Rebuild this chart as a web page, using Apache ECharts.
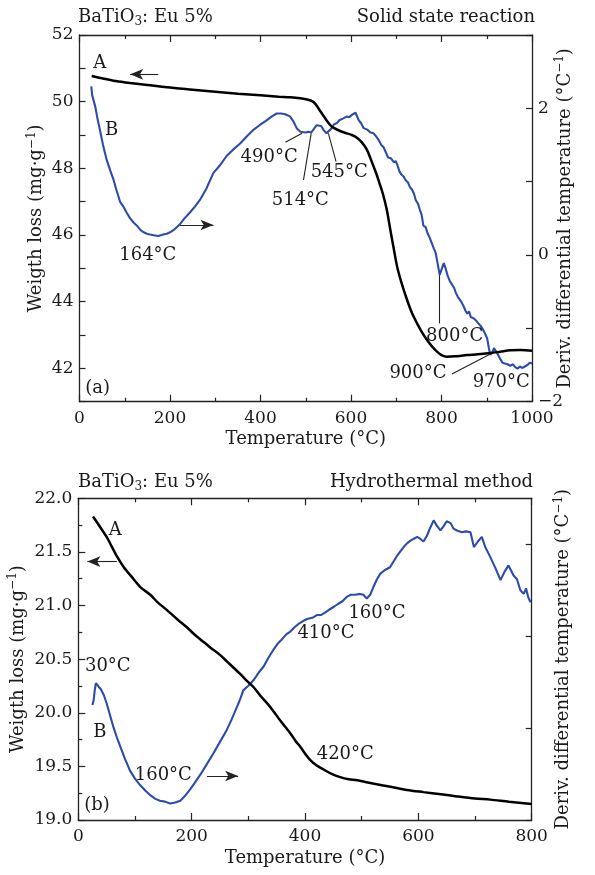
<!DOCTYPE html>
<html><head><meta charset="utf-8">
<script src="https://cdn.jsdelivr.net/npm/echarts@6/dist/echarts.min.js"></script>
<style>html,body{margin:0;padding:0;background:#fff}#c{width:595px;height:875px}</style>
</head><body><div id="c"></div>
<script>
// ---------- data ----------
const topWeight = [[27,50.77],[50,50.70],[80,50.62],[112,50.56],[150,50.50],[193,50.43],[250,50.36],[300,50.30],[350,50.24],[400,50.19],[440,50.15],[466,50.13],[488,50.10],[505,50.06],[515,50.01],[522,49.92],[530,49.76],[540,49.56],[547,49.42],[554,49.30],[561,49.22],[576,49.12],[591,49.05],[602,49.00],[613,48.92],[624,48.78],[635,48.56],[643,48.30],[650,48.05],[657,47.80],[663,47.55],[669,47.30],[675,47.00],[680,46.70],[687,46.15],[695,45.55],[702,45.05],[712,44.55],[724,44.05],[735,43.65],[746,43.35],[757,43.08],[768,42.85],[779,42.66],[790,42.50],[800,42.40],[812,42.35],[830,42.36],[857,42.40],[880,42.42],[908,42.46],[930,42.50],[952,42.54],[975,42.55],[1000,42.53]];
const topDeriv = [[26,2.30],[28,2.18],[30,2.20],[35,2.02],[40,1.85],[45,1.71],[52,1.50],[60,1.30],[68,1.15],[75,1.03],[82,0.88],[90,0.72],[97,0.66],[104,0.58],[112,0.50],[120,0.44],[127,0.40],[135,0.34],[142,0.31],[149,0.29],[156,0.28],[164,0.27],[174,0.26],[185,0.28],[193,0.29],[200,0.31],[210,0.35],[222,0.42],[232,0.50],[244,0.58],[255,0.66],[267,0.76],[280,0.90],[296,1.12],[310,1.22],[325,1.35],[340,1.44],[355,1.52],[370,1.62],[385,1.71],[400,1.78],[412,1.83],[425,1.89],[436,1.93],[445,1.93],[455,1.92],[465,1.89],[472,1.83],[480,1.73],[488,1.68],[492,1.66],[500,1.67],[506,1.68],[512,1.67],[518,1.72],[524,1.77],[528,1.79],[534,1.76],[540,1.70],[546,1.66],[550,1.67],[556,1.72],[562,1.78],[569,1.80],[575,1.84],[582,1.86],[591,1.89],[596,1.88],[602,1.91],[606,1.90],[610,1.94],[614,1.93],[617,1.84],[622,1.80],[628,1.73],[636,1.71],[643,1.67],[650,1.66],[655,1.62],[661,1.57],[667,1.50],[672,1.47],[677,1.40],[682,1.33],[688,1.32],[694,1.27],[699,1.28],[703,1.22],[707,1.14],[711,1.10],[716,1.07],[721,1.02],[726,0.99],[730,0.93],[735,0.89],[739,0.84],[743,0.75],[748,0.70],[752,0.62],[756,0.55],[760,0.40],[765,0.38],[769,0.30],[773,0.25],[778,0.17],[783,0.09],[787,0.03],[791,-0.10],[796,-0.27],[800,-0.20],[805,-0.11],[809,-0.18],[813,-0.27],[818,-0.35],[823,-0.40],[828,-0.45],[832,-0.52],[836,-0.57],[840,-0.55],[844,-0.64],[849,-0.70],[853,-0.76],[857,-0.80],[861,-0.77],[865,-0.85],[870,-0.86],[876,-0.89],[881,-0.93],[887,-0.97],[892,-1.02],[897,-1.08],[901,-1.14],[905,-1.28],[908,-1.36],[912,-1.33],[916,-1.27],[920,-1.28],[925,-1.36],[930,-1.42],[935,-1.47],[940,-1.48],[946,-1.49],[952,-1.51],[958,-1.49],[963,-1.53],[968,-1.55],[973,-1.52],[978,-1.54],[984,-1.52],[990,-1.50],[995,-1.47],[1000,-1.48]];
const botWeight = [[26,21.83],[35,21.76],[50,21.64],[60,21.54],[68,21.46],[80,21.36],[97,21.25],[110,21.17],[127,21.10],[140,21.03],[156,20.96],[175,20.87],[191,20.80],[205,20.73],[221,20.66],[235,20.60],[250,20.54],[262,20.48],[274,20.42],[286,20.36],[297,20.30],[309,20.24],[321,20.16],[333,20.09],[345,20.01],[356,19.93],[365,19.87],[374,19.81],[383,19.74],[392,19.68],[400,19.62],[409,19.56],[420,19.51],[433,19.47],[447,19.43],[462,19.40],[477,19.38],[492,19.37],[520,19.34],[551,19.31],[580,19.28],[609,19.26],[640,19.24],[668,19.22],[700,19.20],[727,19.19],[760,19.17],[800,19.15]];
const botDeriv = [[25,1.25],[27,1.30],[29,1.41],[31,1.49],[32.5,1.51],[34,1.47],[36,1.45],[40,1.42],[45,1.36],[50,1.27],[56,1.14],[62,1.01],[68,0.90],[74,0.80],[82,0.67],[91,0.54],[100,0.45],[109,0.38],[118,0.32],[127,0.27],[136,0.23],[144,0.21],[153,0.20],[162,0.18],[171,0.19],[180,0.21],[188,0.26],[197,0.33],[206,0.41],[215,0.49],[226,0.60],[238,0.72],[250,0.85],[262,0.98],[271,1.10],[280,1.23],[286,1.32],[291,1.41],[300,1.46],[309,1.52],[318,1.60],[327,1.67],[335,1.76],[344,1.85],[352,1.92],[360,1.97],[367,2.02],[374,2.05],[382,2.10],[390,2.14],[398,2.17],[405,2.19],[413,2.20],[421,2.23],[428,2.23],[436,2.26],[443,2.29],[451,2.32],[458,2.35],[466,2.38],[474,2.43],[481,2.45],[489,2.45],[497,2.46],[503,2.45],[509,2.41],[515,2.45],[521,2.54],[527,2.62],[533,2.68],[541,2.72],[550,2.75],[556,2.81],[562,2.87],[568,2.92],[574,2.97],[580,3.01],[586,3.04],[592,3.06],[598,3.08],[603,3.06],[609,3.03],[615,3.09],[621,3.18],[627,3.26],[633,3.20],[639,3.15],[645,3.20],[650,3.25],[653,3.27],[657,3.23],[662,3.17],[668,3.15],[677,3.13],[684,3.14],[692,3.13],[698,2.97],[705,3.03],[712,3.08],[718,2.97],[727,2.86],[736,2.74],[745,2.61],[752,2.70],[759,2.77],[764,2.71],[768,2.66],[774,2.62],[780,2.50],[786,2.46],[790,2.52],[794,2.42],[798,2.37]];

const topLeftLabels = [42,44,46,48,50,52];
const topLeftTicks = [41,42,43,44,45,46,47,48,49,50,51,52];
const topRightLabels = [-2,0,2];
const topRightTicks = [-2,-1,0,1,2,3];
const botRightTicks = [0,1,2,3];

const topNotes = [[45,51.15,'A'],[71,49.15,'B'],[151,45.40,'164°C'],[419,48.34,'490°C'],[488,47.05,'514°C'],[574,47.89,'545°C'],[829,42.95,'800°C'],[748,41.85,'900°C'],[932,41.57,'970°C'],[40,41.41,'(a)']];
const topLeaders = [[[455,48.78],[492,49.05]],[[495,47.65],[512,49.05]],[[567,48.20],[550,49.05]],[[796,44.80],[796,43.35]],[[823,41.83],[908,42.43]]];
const topArrows = [[[174,50.82],[112,50.82]],[[222,46.30],[296,46.30]]];
const botNotes = [[65,21.70,'A'],[52,20.43,'30°C'],[38,19.82,'B'],[150,19.42,'160°C'],[437,20.74,'410°C'],[527,20.93,'160°C'],[471,19.61,'420°C'],[33,19.14,'(b)']];
const botLeaders = [];
const botArrows = [[[68,21.41],[16,21.41]],[[227,19.41],[282,19.41]]];

// ---------- styling ----------
const FONT = 'DejaVu Serif';
const TXT = '#1a1a1a';
const BLUE = '#2d4ca8';
const AX = '#222';
const TICK = 17, NAME = 18;

const nameRich = {
  a:{fontFamily:FONT,fontSize:NAME,color:TXT,lineHeight:22,fontWeight:'normal'},
  s:{fontFamily:FONT,fontSize:12,color:TXT,lineHeight:22,verticalAlign:'top',fontWeight:'normal'}
};
const titleRich = {
  a:{fontFamily:FONT,fontSize:NAME,color:TXT,lineHeight:22,fontWeight:'normal'},
  s:{fontFamily:FONT,fontSize:12,color:TXT,lineHeight:22,verticalAlign:'bottom',fontWeight:'normal'}
};
const axLine = {show:true,onZero:false,lineStyle:{color:AX,width:1.3}};
const lbl = (m)=>({fontFamily:FONT,fontSize:TICK,color:TXT,margin:m});

function xAx(grid,max,pos,name){
  const o = {type:'value',gridIndex:grid,min:0,max:max,interval:200,position:pos,
    axisLine:axLine,splitLine:{show:false},
    axisTick:{show:true,inside:true,length:7,lineStyle:{color:AX,width:1.2}},
    minorTick:{show:true,splitNumber:2,length:4,lineStyle:{color:AX,width:1.2}},
    axisLabel:pos==='bottom'?Object.assign(lbl(8),{formatter:v=>String(v)}):{show:false}};
  if(name){o.name=name;o.nameLocation='middle';o.nameGap=27;o.nameMoveOverlap=false;
    o.nameTextStyle={fontFamily:FONT,fontSize:NAME,color:TXT,lineHeight:22};}
  return o;
}
const mkNotes = (arr)=>arr.map(d=>({value:[d[0],d[1]],name:d[2]}));
const mkLines = (leaders,arrows)=>[
  ...leaders.map(l=>[{coord:l[0],symbol:'none'},{coord:l[1],symbol:'none'}]),
  ...arrows.map(l=>[{coord:l[0],symbol:'none'},{coord:l[1],symbol:'arrow',symbolSize:[8,13]}])
];
function notesSeries(xi,yi,notes,leaders,arrows){
  return {type:'scatter',xAxisIndex:xi,yAxisIndex:yi,data:mkNotes(notes),symbolSize:1,
    itemStyle:{color:'transparent',opacity:1},silent:true,z:5,
    label:{show:true,position:'inside',formatter:'{b}',fontFamily:FONT,fontSize:NAME,color:TXT,opacity:1,textBorderWidth:0},
    markLine:{silent:true,animation:false,symbol:['none','none'],label:{show:false},
      lineStyle:{color:'#222',width:1.1,type:'solid',opacity:1},emphasis:{disabled:true},
      data:mkLines(leaders,arrows)}};
}

const chart = echarts.init(document.getElementById('c'),null,{renderer:'canvas'});
chart.setOption({
  animation:false,
  backgroundColor:'#fff',
  title:[
    {text:'{a|BaTiO}{s|3}{a|: Eu 5%}',left:78,top:6,padding:0,textStyle:{fontWeight:'normal',rich:titleRich}},
    {text:'Solid state reaction',right:60,top:6,padding:0,textStyle:{fontFamily:FONT,fontSize:NAME,color:TXT,fontWeight:'normal',lineHeight:22}},
    {text:'{a|BaTiO}{s|3}{a|: Eu 5%}',left:78,top:471,padding:0,textStyle:{fontWeight:'normal',rich:titleRich}},
    {text:'Hydrothermal method',right:62,top:471,padding:0,textStyle:{fontFamily:FONT,fontSize:NAME,color:TXT,fontWeight:'normal',lineHeight:22}}
  ],
  grid:[
    {left:79.5,top:35,right:63,bottom:473.3,containLabel:false,outerBoundsMode:'none'},
    {left:78.3,top:498.3,right:63.3,bottom:55,containLabel:false,outerBoundsMode:'none'}
  ],
  xAxis:[
    xAx(0,1000,'bottom','Temperature (°C)'),
    xAx(0,1000,'top'),
    xAx(1,800,'bottom','Temperature (°C)'),
    xAx(1,800,'top')
  ],
  yAxis:[
    {type:'value',gridIndex:0,position:'left',min:41,max:52,interval:1,
      axisLine:axLine,splitLine:{show:false},
      axisTick:{show:true,inside:true,length:6,customValues:topLeftTicks,lineStyle:{color:AX,width:1.2}},
      axisLabel:Object.assign(lbl(6),{customValues:topLeftLabels}),
      name:'{a|Weigth loss (mg·g}{s|−1}{a|)}',nameLocation:'middle',nameRotate:90,nameGap:32,nameMoveOverlap:false,
      nameTextStyle:{rich:nameRich}},
    {type:'value',gridIndex:0,position:'right',min:-2,max:3,interval:1,
      axisLine:axLine,splitLine:{show:false},
      axisTick:{show:true,inside:true,length:6,customValues:topRightTicks,lineStyle:{color:AX,width:1.2}},
      axisLabel:Object.assign(lbl(6),{customValues:topRightLabels,formatter:v=>String(v).replace('-','−')}),
      name:'{a|Deriv. differential temperature (°C}{s|−1}{a|)}',nameLocation:'middle',nameRotate:90,nameGap:22,nameMoveOverlap:false,
      nameTextStyle:{rich:nameRich}},
    {type:'value',gridIndex:1,position:'left',min:19,max:22,interval:0.5,
      axisLine:axLine,splitLine:{show:false},
      axisTick:{show:true,inside:true,length:7,lineStyle:{color:AX,width:1.2}},
      minorTick:{show:true,splitNumber:2,length:4,lineStyle:{color:AX,width:1.2}},
      axisLabel:Object.assign(lbl(6),{formatter:v=>v.toFixed(1)}),
      name:'{a|Weigth loss (mg·g}{s|−1}{a|)}',nameLocation:'middle',nameRotate:90,nameGap:49,nameMoveOverlap:false,
      nameTextStyle:{rich:nameRich}},
    {type:'value',gridIndex:1,position:'right',min:0,max:3.5,interval:1,
      axisLine:axLine,splitLine:{show:false},axisLabel:{show:false},
      axisTick:{show:true,inside:true,length:6,customValues:botRightTicks,lineStyle:{color:AX,width:1.2}},
      name:'{a|Deriv. differential temperature (°C}{s|−1}{a|)}',nameLocation:'middle',nameRotate:90,nameGap:21,nameMoveOverlap:false,
      nameTextStyle:{rich:nameRich}}
  ],
  series:[
    {type:'line',xAxisIndex:0,yAxisIndex:0,data:topWeight,showSymbol:false,smooth:0.3,
      lineStyle:{color:'#000',width:2.5},z:3,silent:true},
    {type:'line',xAxisIndex:0,yAxisIndex:1,data:topDeriv,showSymbol:false,
      lineStyle:{color:BLUE,width:2.1},z:2,silent:true},
    {type:'line',xAxisIndex:2,yAxisIndex:2,data:botWeight,showSymbol:false,smooth:0.3,
      lineStyle:{color:'#000',width:2.5},z:3,silent:true},
    {type:'line',xAxisIndex:2,yAxisIndex:3,data:botDeriv,showSymbol:false,
      lineStyle:{color:BLUE,width:2.1},z:2,silent:true},
    notesSeries(0,0,topNotes,topLeaders,topArrows),
    notesSeries(2,2,botNotes,botLeaders,botArrows)
  ]
});
</script></body></html>
